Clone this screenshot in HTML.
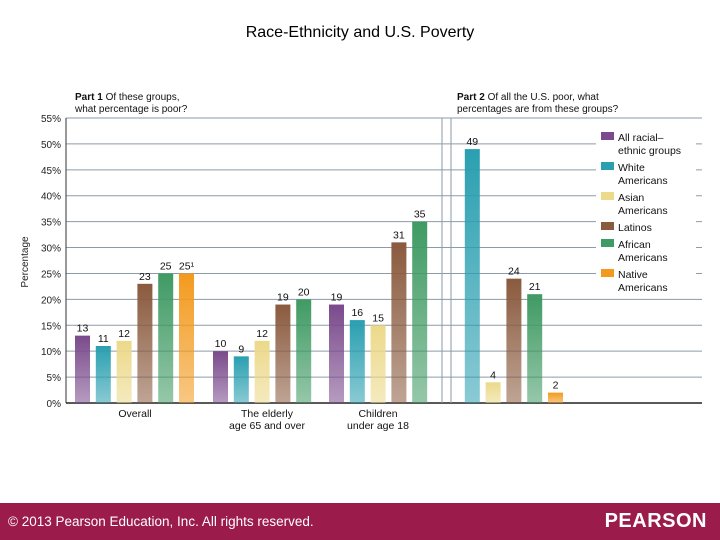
<!DOCTYPE html>
<html><head><meta charset="utf-8"><style>
body{margin:0;width:720px;height:540px;background:#fff;font-family:"Liberation Sans",sans-serif;overflow:hidden;position:relative}
</style></head><body>
<div style="position:absolute;top:24px;width:720px;text-align:center;font-size:16px;color:#000">Race-Ethnicity and U.S. Poverty</div>
<svg id="c" width="720" height="500" style="position:absolute;left:0;top:0" font-family="Liberation Sans, sans-serif"></svg>
<div style="position:absolute;left:0;top:503px;width:720px;height:37px;background:#9b1b4b">
<span style="position:absolute;left:8px;top:11px;color:#fff;font-size:13.5px">© 2013 Pearson Education, Inc. All rights reserved.</span>
<span style="position:absolute;right:13px;top:7px;color:#fff;font-size:20px;font-weight:bold;letter-spacing:0.5px">PEARSON</span></div>
<script>
const groups=["Overall","The elderly|age 65 and over","Children|under age 18","Part 2"];
const series=["All racial–|ethnic groups","White|Americans","Asian|Americans","Latinos","African|Americans","Native|Americans"];
const colors=["#7a4a8c","#2a9fb0","#ecd98a","#8a5a3e","#3f9a63","#f39a1e"];
const overall=[13,11,12,23,25,25];
const elderly=[10,9,12,19,20,null];
const children=[19,16,15,31,35,null];
const part2=[null,49,4,24,21,2];
const yTicks=[0,5,10,15,20,25,30,35,40,45,50,55];
const data=[overall,elderly,children,part2];
const groupStart=[75,213,329,444];
const svg=document.getElementById('c');const NS='http://www.w3.org/2000/svg';
const y=v=>403-v*285/55;
function el(t,a,txt){const e=document.createElementNS(NS,t);for(const k in a)e.setAttribute(k,a[k]);if(txt!=null)e.textContent=txt;svg.appendChild(e);return e;}
yTicks.forEach(t=>{
 if(t>0){const g=el('line',{x1:66,x2:702,y1:y(t),y2:y(t),stroke:'#8d9aa8','stroke-width':1});
 
 }
 const l=el('text',{x:61,y:y(t)+4,'text-anchor':'end','font-size':10,fill:'#222'},t+'%');
 
 
});
el('line',{x1:66,x2:66,y1:y(55),y2:403,stroke:'#333'});
el('line',{x1:66,x2:702,y1:403,y2:403,stroke:'#222','stroke-width':1.5});
el('line',{x1:442,x2:442,y1:118,y2:403,stroke:'#8d9aa8'});
el('line',{x1:451,x2:451,y1:118,y2:403,stroke:'#8d9aa8'});
const yt=el('text',{x:28,y:262,'text-anchor':'middle','font-size':10,fill:'#222',transform:'rotate(-90 28 262)'},'Percentage');


const defs=el('defs',{});
colors.forEach((c,i)=>{const g=document.createElementNS(NS,'linearGradient');g.setAttribute('id','g'+i);g.setAttribute('x1',0);g.setAttribute('y1',0);g.setAttribute('x2',0);g.setAttribute('y2',1);
 g.innerHTML='<stop offset="0" stop-color="'+c+'"/><stop offset="1" stop-color="'+c+'" stop-opacity="0.55"/>';defs.appendChild(g);});
data.forEach((arr,gi)=>{arr.forEach((v,si)=>{if(v==null)return;
 const x=groupStart[gi]+si*20.8;
 const r=el('rect',{x:x,y:y(v),width:15,height:403-y(v),fill:'url(#g'+si+')'});
 
 
 const l=el('text',{x:x+7.5,y:y(v)-4,'text-anchor':'middle','font-size':10.5,fill:'#111'},v+(gi==0&&si==5?'¹':''));
 
 });});
[[135,0],[267,1],[378,2]].forEach(([cx,gi])=>{groups[gi].split('|').forEach((s,k)=>{
 const t=el('text',{x:cx,y:417+k*12,'text-anchor':'middle','font-size':10.5,fill:'#111'},s);
 
 });});
function head(x,b,rest,rest2){const t=el('text',{x:x,y:100,'font-size':10,fill:'#111'});t.innerHTML='<tspan font-weight="bold">'+b+'</tspan> '+rest;
 
 
 el('text',{x:x,y:112,'font-size':10,fill:'#111'},rest2);}
head(75,'Part 1',' Of these groups,','what percentage is poor?');
head(457,'Part 2',' Of all the U.S. poor, what','percentages are from these groups?');
el('rect',{x:596,y:125,width:100,height:172,fill:'#fff'});
let yy=138;
series.forEach((s,i)=>{const parts=s.split('|');
 const sw=el('rect',{x:601,y:yy-6,width:13,height:8,fill:colors[i]});
 
 
 parts.forEach((p,k)=>{const t=el('text',{x:618,y:yy+3+k*13,'font-size':10.5,fill:'#111'},p);
 
 });
 yy+=parts.length*13+4;});
</script>
</body></html>
